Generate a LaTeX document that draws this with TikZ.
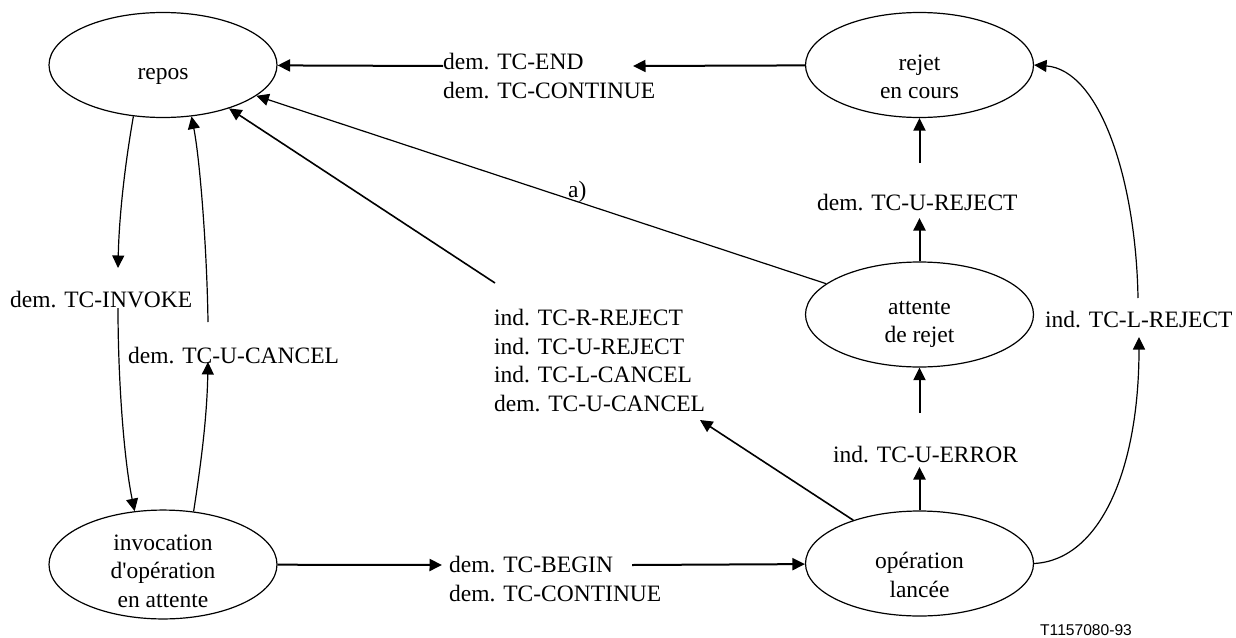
\documentclass[tikz,border=0pt]{standalone}
\usepackage{fontspec}
\setmainfont{Liberation Serif}[Ligatures=TeXOff]
\newfontfamily\footfont{Liberation Sans}
\usetikzlibrary{shapes.geometric,arrows.meta}
% struts that lower the text block inside the state ellipses
\newcommand\topst{\rule{0pt}{34pt}}
\newcommand\topstlow{\rule{0pt}{45pt}}
\newcommand\botst{\rule[-6pt]{0pt}{6pt}}
\begin{document}
\begin{tikzpicture}[x=1pt,y=-1pt,
  txt/.style={font=\fontsize{23.5}{28.5}\selectfont},
  state/.style={draw, line width=1.2pt, ellipse, minimum width=228pt,
    minimum height=105pt, inner sep=-10pt, align=center, txt},
  lbl/.style={inner sep=0pt, align=left, txt},
  tip/.style={-{Triangle[length=12.5pt,width=12pt]}},
  heavy/.style={line width=2pt},
  mid/.style={line width=1.6pt},
  thin/.style={line width=1.2pt}]

\fill[white] (0,0) rectangle (1236,637);
\useasboundingbox (0,0) rectangle (1236,637);

% states
\node[state] (repos)   at (163,65)      {\topst repos\botst};
\node[state] (rejet)   at (919.5,65)    {\topstlow rejet\\en cours\botst};
\node[state] (attente) at (919.5,314.5) {\topst attente\\de rejet\botst};
\node[state] (invoc)   at (163,564.5)   {\topst invocation\\d'opération\\en attente\botst};
\node[state] (oper)    at (919.5,563.5) {\topstlow opération\\lancée\botst};

% transition labels
\node[lbl, anchor=north west] (lEnd)  at (443,53)  {dem. TC-END\\dem. TC-CONTINUE};
\node[lbl, anchor=base west]  (lInv)  at (10,307)  {dem. TC-INVOKE};
\node[lbl, anchor=base west]  (lUCan) at (128,363) {dem. TC-U-CANCEL};
\node[lbl, anchor=north west] (lRej)  at (494,309) {ind. TC-R-REJECT\\ind. TC-U-REJECT\\ind. TC-L-CANCEL\\dem. TC-U-CANCEL};
\node[lbl, anchor=north west] (lBeg)  at (449,556) {dem. TC-BEGIN\\dem. TC-CONTINUE};
\node[lbl, anchor=base west]  (lURej) at (817,210) {dem. TC-U-REJECT};
\node[lbl, anchor=base west]  (lUErr) at (833,462) {ind. TC-U-ERROR};
\node[lbl, anchor=base west]  (lLRej) at (1045,327) {ind. TC-L-REJECT};
\node[lbl, anchor=base west]  (la)    at (568,197) {a)};
\node[anchor=base west, inner sep=0pt, font=\footfont\fontsize{15.6}{18}\selectfont] (fig) at (1040,635) {T1157080-93};

% ends of the broken connectors around the labels
\coordinate (endL)   at (443,66);
\coordinate (endR)   at (633,66);
\coordinate (invTip) at (118,268);
\coordinate (invBeg) at (118,308);
\coordinate (canTip) at (208,362);
\coordinate (canBeg) at (208,322);
\coordinate (rejBeg) at (495,283);
\coordinate (rejTip) at (700,420);
\coordinate (begTip) at (442,565);
\coordinate (begBeg) at (632,565);
\coordinate (urTip)  at (919.5,218);
\coordinate (urBeg)  at (919.5,163);
\coordinate (ueTip)  at (919.5,467);
\coordinate (ueBeg)  at (919.5,413);
\coordinate (lrTip)  at (1139,337);
\coordinate (lrBeg)  at (1138,298);

% rejet en cours -> repos
\draw[heavy, tip] (rejet) -- (endR);
\draw[heavy, tip] (endL) -- (repos);

% repos -> invocation
\draw[thin, tip] (repos.240) .. controls (124,170) and (119,220) .. (invTip);
\draw[thin, tip] (invBeg) .. controls (118,380) and (124,460) .. (invoc.118);

% invocation -> repos
\draw[thin, tip] (invoc.60) .. controls (200,470) and (207,420) .. (canTip);
\draw[thin, tip] (canBeg) .. controls (207,250) and (200,160) .. (repos.299);

% operation -> repos (rejects, cancel)
\draw[mid, tip] (oper) -- (rejTip);
\draw[mid, tip] (rejBeg) -- (repos);

% attente de rejet -> repos (a)
\draw[thin, tip] (attente) -- (repos);

% invocation -> operation
\draw[heavy, tip] (invoc) -- (begTip);
\draw[heavy, tip] (begBeg) -- (oper);

% operation -> attente de rejet -> rejet en cours
\draw[heavy, tip] (oper) -- (ueTip);
\draw[heavy, tip] (ueBeg) -- (attente);
\draw[heavy, tip] (attente) -- (urTip);
\draw[heavy, tip] (urBeg) -- (rejet);

% operation -> rejet en cours (L-REJECT)
\draw[thin, tip] (oper.east) .. controls (1100,560) and (1139,470) .. (lrTip);
\draw[thin, tip] (lrBeg) .. controls (1136,180) and (1100,70) .. (rejet.east);

\end{tikzpicture}
\end{document}
